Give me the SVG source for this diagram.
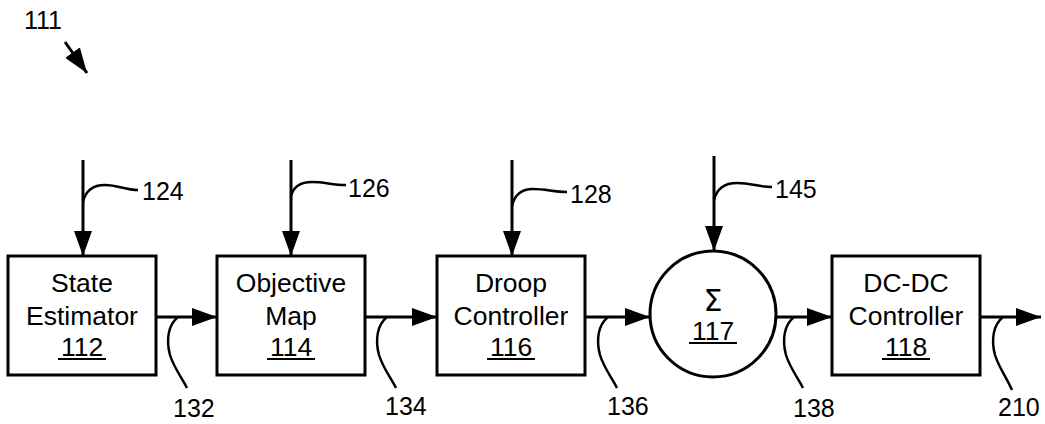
<svg xmlns="http://www.w3.org/2000/svg" width="1045" height="424" viewBox="0 0 1045 424">
<style>
.box{fill:#fff;stroke:#000;stroke-width:3}
.ln{fill:none;stroke:#000;stroke-width:3}
.ld{fill:none;stroke:#000;stroke-width:2.5}
.ul{stroke:#000;stroke-width:2}
.t{font-family:"Liberation Sans",Arial,sans-serif;font-size:26.5px;fill:#000;text-anchor:middle}
.sg{font-family:"DejaVu Sans",sans-serif;font-size:30px;fill:#000;text-anchor:middle}
.lb{font-family:"Liberation Sans",Arial,sans-serif;font-size:25px;fill:#000}
</style>
<defs>
<marker id="ah" markerUnits="userSpaceOnUse" markerWidth="26" markerHeight="18" refX="25" refY="9" orient="auto">
<path d="M0,0 L25,9 L0,18 z" fill="#000"/>
</marker>
</defs>
<g id="label-111">
<text class="lb" x="24" y="29">111</text>
<path class="ln" d="M65,42 L87,73" marker-end="url(#ah)"/>
</g>
<g id="node-112">
<rect class="box" x="8" y="256" width="148" height="119"/>
<text class="t" x="82" y="292">State</text>
<text class="t" x="82" y="325">Estimator</text>
<text class="t" x="82" y="356">112</text>
<line class="ul" x1="58" y1="359" x2="106" y2="359"/>
</g>
<g id="node-114">
<rect class="box" x="217" y="256" width="148" height="119"/>
<text class="t" x="291" y="292">Objective</text>
<text class="t" x="291" y="325">Map</text>
<text class="t" x="291" y="356">114</text>
<line class="ul" x1="267" y1="359" x2="315" y2="359"/>
</g>
<g id="node-116">
<rect class="box" x="437" y="256" width="148" height="119"/>
<text class="t" x="511" y="292">Droop</text>
<text class="t" x="511" y="325">Controller</text>
<text class="t" x="511" y="356">116</text>
<line class="ul" x1="487" y1="359" x2="535" y2="359"/>
</g>
<g id="node-117">
<circle class="box" cx="713" cy="314" r="63"/>
<text class="sg" x="713" y="311">Σ</text>
<text class="t" x="713" y="340">117</text>
<line class="ul" x1="689" y1="343" x2="737" y2="343"/>
</g>
<g id="node-118">
<rect class="box" x="832" y="256" width="148" height="119"/>
<text class="t" x="906" y="292">DC-DC</text>
<text class="t" x="906" y="325">Controller</text>
<text class="t" x="906" y="356">118</text>
<line class="ul" x1="882" y1="359" x2="930" y2="359"/>
</g>
<g id="connectors">
<path class="ln" d="M83,160 L83,256" marker-end="url(#ah)"/>
<path class="ln" d="M291,160 L291,256" marker-end="url(#ah)"/>
<path class="ln" d="M512,160 L512,256" marker-end="url(#ah)"/>
<path class="ln" d="M714,156 L714,251" marker-end="url(#ah)"/>
<path class="ln" d="M156,317 L217,317" marker-end="url(#ah)"/>
<path class="ln" d="M365,317 L437,317" marker-end="url(#ah)"/>
<path class="ln" d="M585,317 L650,317" marker-end="url(#ah)"/>
<path class="ln" d="M776,317 L832,317" marker-end="url(#ah)"/>
<path class="ln" d="M980,317 L1041,317" marker-end="url(#ah)"/>
</g>
<g id="leaders">
<path class="ld" d="M83,202 C86,189 95,185 105,185 C118,185 125,190 138,190"/>
<text class="lb" x="142" y="200">124</text>
<path class="ld" d="M291,196 C294,185 302,182 312,182 C325,182 332,185 346,185"/>
<text class="lb" x="348" y="197">126</text>
<path class="ld" d="M512,206 C515,193 523,189 533,189 C547,189 553,192 567,192"/>
<text class="lb" x="570" y="203">128</text>
<path class="ld" d="M714,200 C717,188 725,183 737,183 C752,183 758,187 772,187"/>
<text class="lb" x="775" y="198">145</text>
<path class="ld" d="M178,317 C168,325 166,340 170,355 C174,368 182,378 187,388"/>
<text class="lb" x="173" y="417">132</text>
<path class="ld" d="M387,317 C377,325 375,340 379,355 C383,368 391,378 396,388"/>
<text class="lb" x="385" y="415">134</text>
<path class="ld" d="M608,317 C598,325 596,340 600,355 C604,368 612,378 617,388"/>
<text class="lb" x="607" y="415">136</text>
<path class="ld" d="M794,317 C784,325 782,340 786,355 C790,368 798,378 803,388"/>
<text class="lb" x="793" y="417">138</text>
<path class="ld" d="M1003,317 C993,325 991,340 995,355 C999,368 1007,378 1012,390"/>
<text class="lb" x="998" y="416">210</text>
</g>
</svg>
